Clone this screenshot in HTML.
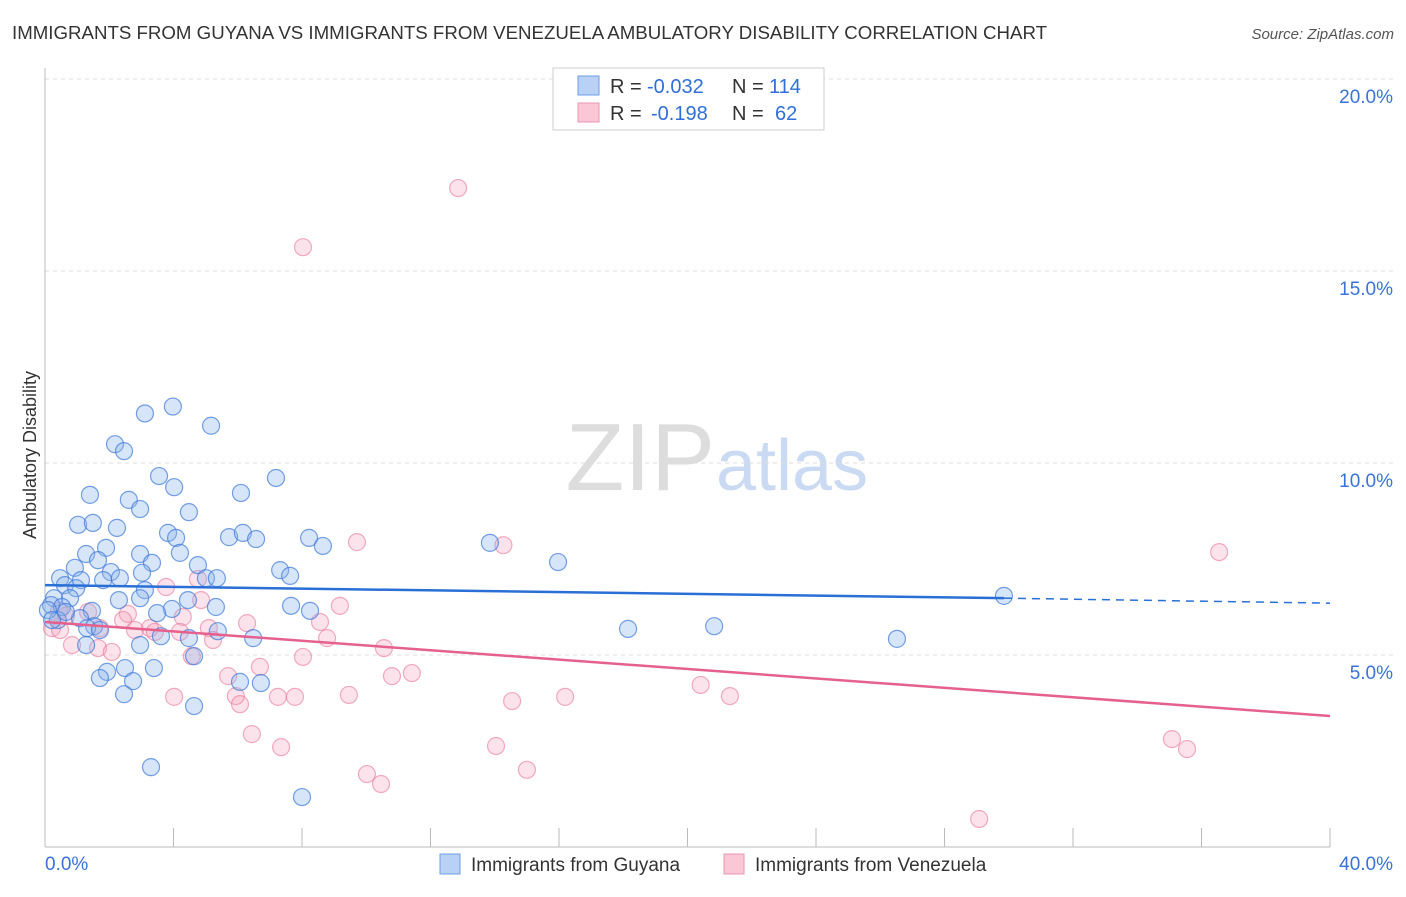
<!DOCTYPE html>
<html><head><meta charset="utf-8"><style>
body{margin:0;background:#fff;font-family:"Liberation Sans",sans-serif}
svg text{font-family:"Liberation Sans",sans-serif}
</style></head><body>
<svg id="c" width="1406" height="892">
<text x="12" y="39" font-size="18" fill="#333" textLength="1035" lengthAdjust="spacingAndGlyphs">IMMIGRANTS FROM GUYANA VS IMMIGRANTS FROM VENEZUELA AMBULATORY DISABILITY CORRELATION CHART</text>
<text x="1394" y="39" font-size="15" fill="#555" font-style="italic" text-anchor="end">Source: ZipAtlas.com</text>
<text x="715" y="490" font-size="96" fill="#ddd" text-anchor="end" font-family="Liberation Serif">ZIP</text>
<text x="716" y="490" font-size="72" fill="#c9daf2">atlas</text>
<text x="36" y="455" font-size="18" fill="#333" text-anchor="middle" transform="rotate(-90 36 455)">Ambulatory Disability</text>
<g id="grid"></g><g id="pts"></g><g id="lines"></g>
<g>
<rect x="553" y="68" width="271" height="62" fill="#fff" stroke="#ccc"/>
<rect x="578" y="76" width="21" height="19" fill="#b8d1f5" stroke="#6e9ee6"/>
<rect x="578" y="103" width="21" height="19" fill="#f9c7d6" stroke="#eb94b0"/>
<text y="93" font-size="20" fill="#333"><tspan x="610">R =</tspan><tspan x="647" fill="#2f6fd8">-0.032</tspan><tspan x="732">N =</tspan><tspan x="769" fill="#2f6fd8">114</tspan></text>
<text y="120" font-size="20" fill="#333"><tspan x="610">R =</tspan><tspan x="651" fill="#2f6fd8">-0.198</tspan><tspan x="732">N =</tspan><tspan x="775" fill="#2f6fd8">62</tspan></text>
</g>
<g>
<rect x="440" y="854" width="20" height="20" fill="#b8d1f5" stroke="#6e9ee6"/>
<text x="471" y="871" font-size="19" fill="#333">Immigrants from Guyana</text>
<rect x="724" y="854" width="20" height="20" fill="#f9c7d6" stroke="#eb94b0"/>
<text x="755" y="871" font-size="19" fill="#333">Immigrants from Venezuela</text>
</g>
</svg>
<script>
const yTicks=[5,10,15,20];
const yTickLabels=["5.0%","10.0%","15.0%","20.0%"];
const xTickVals=[0,4,8,12,16,20,24,28,32,36,40];
const guyX=[3.98,3.11,5.17,2.18,2.46,3.55,7.19,6.10,4.02,1.40,2.61,2.96,4.48,1.03,1.49,2.24,3.83,4.08,5.73,6.16,6.57,8.22,8.65,13.85,15.97,1.28,1.90,2.96,4.20,3.33,1.65,4.76,0.93,2.05,7.32,7.63,3.02,0.47,1.12,1.81,2.33,5.01,5.35,0.62,0.97,3.11,29.85,0.28,0.78,2.30,4.45,2.96,0.19,0.53,1.46,3.95,5.32,7.66,8.25,3.49,0.40,1.09,1.53,1.31,1.71,5.38,18.15,20.83,26.52,3.61,4.48,2.96,1.28,6.48,4.64,2.49,3.39,1.93,1.71,2.74,6.07,6.72,2.46,4.64,3.30,8.00,0.09,0.22,0.65];
const guyY=[11.47,11.29,10.97,10.49,10.31,9.66,9.61,9.22,9.37,9.17,9.04,8.80,8.72,8.39,8.44,8.31,8.18,8.05,8.07,8.18,8.02,8.05,7.84,7.92,7.42,7.63,7.79,7.63,7.66,7.40,7.47,7.34,7.27,7.16,7.21,7.06,7.14,7.00,6.95,6.95,7.00,7.00,7.00,6.82,6.74,6.69,6.54,6.48,6.48,6.43,6.43,6.48,6.30,6.25,6.15,6.20,6.25,6.28,6.15,6.09,5.91,5.96,5.75,5.70,5.65,5.62,5.68,5.75,5.42,5.49,5.44,5.26,5.26,5.44,4.97,4.66,4.66,4.56,4.40,4.32,4.30,4.27,3.98,3.67,2.08,1.30,6.17,5.91,6.12];
const venX=[12.86,8.03,36.55,14.27,9.71,3.77,4.76,4.86,9.18,4.29,2.58,1.34,0.44,0.65,0.22,0.47,1.71,2.43,2.80,3.27,4.20,5.10,6.29,8.56,0.84,1.65,2.08,3.42,5.23,8.78,10.55,4.57,8.03,6.69,5.70,10.80,11.42,4.02,5.94,7.25,7.78,9.46,6.07,14.54,16.19,20.41,21.32,6.44,7.35,14.04,35.08,35.55,15.00,10.02,10.46,29.08];
const venY=[17.16,15.62,7.68,7.86,7.94,6.77,6.98,6.43,6.28,5.99,6.07,6.12,6.15,6.02,5.70,5.65,5.70,5.91,5.65,5.70,5.60,5.70,5.83,5.86,5.26,5.18,5.08,5.60,5.39,5.44,5.18,4.97,4.95,4.69,4.45,4.45,4.53,3.91,3.93,3.91,3.91,3.96,3.72,3.80,3.91,4.22,3.93,2.94,2.60,2.63,2.81,2.55,2.01,1.90,1.64,0.73];
const guyTrend=[6.82,6.48,6.35]; const guyTrendX=[0,29.85,40];
const venTrend=[5.86,3.41]; const venTrendX=[0,40];
const X=v=>45+v/40*1285, Y=v=>847-v/5*192;
const NS="http://www.w3.org/2000/svg";
function mk(p,t,a){const e=document.createElementNS(NS,t);for(const k in a)e.setAttribute(k,a[k]);p.appendChild(e);return e;}
const g=document.getElementById('grid');
yTicks.forEach((t,i)=>{
 const l=mk(g,'line',{x1:45,x2:1394,y1:Y(t),y2:Y(t),stroke:'#ddd','stroke-dasharray':'4,4'});
 
 
 const tx=mk(g,'text',{x:1393,y:Y(t)+24,'font-size':19,fill:'#3a72d6','text-anchor':'end'});tx.textContent=yTickLabels[i];
 
 
});
const ax=mk(g,'line',{x1:45,x2:45,y1:68,y2:847,stroke:'#bbb'});


const bx=mk(g,'line',{x1:45,x2:1330,y1:847,y2:847,stroke:'#bbb'});


xTickVals.forEach(v=>{const t=mk(g,'line',{x1:X(v),x2:X(v),y1:828,y2:847,stroke:'#bbb'});
 
 });
const x0=mk(g,'text',{x:45,y:870,'font-size':19,fill:'#3a72d6'});x0.textContent='0.0%';


const x1=mk(g,'text',{x:1393,y:870,'font-size':19,fill:'#3a72d6','text-anchor':'end'});x1.textContent='40.0%';


const P=document.getElementById('pts');
venX.forEach((v,i)=>{const c=mk(P,'circle',{cx:X(v),cy:Y(venY[i]),r:8.5,fill:'rgba(244,160,185,0.3)',stroke:'rgba(232,120,155,0.6)','stroke-width':1.2});
 
 });
guyX.forEach((v,i)=>{const c=mk(P,'circle',{cx:X(v),cy:Y(guyY[i]),r:8.5,fill:'rgba(140,180,235,0.35)',stroke:'rgba(60,120,215,0.7)','stroke-width':1.2});
 
 });
const L=document.getElementById('lines');
const b1=mk(L,'line',{x1:X(guyTrendX[0]),y1:Y(guyTrend[0]),x2:X(guyTrendX[1]),y2:Y(guyTrend[1]),stroke:'#2a6fd6','stroke-width':2.5});


const b2=mk(L,'line',{x1:X(guyTrendX[1]),y1:Y(guyTrend[1]),x2:X(guyTrendX[2]),y2:Y(guyTrend[2]),stroke:'#2a6fd6','stroke-width':1.5,'stroke-dasharray':'8,6'});


const p1=mk(L,'line',{x1:X(venTrendX[0]),y1:Y(venTrend[0]),x2:X(venTrendX[1]),y2:Y(venTrend[1]),stroke:'#e6608e','stroke-width':2.5});


</script>
</body></html>
